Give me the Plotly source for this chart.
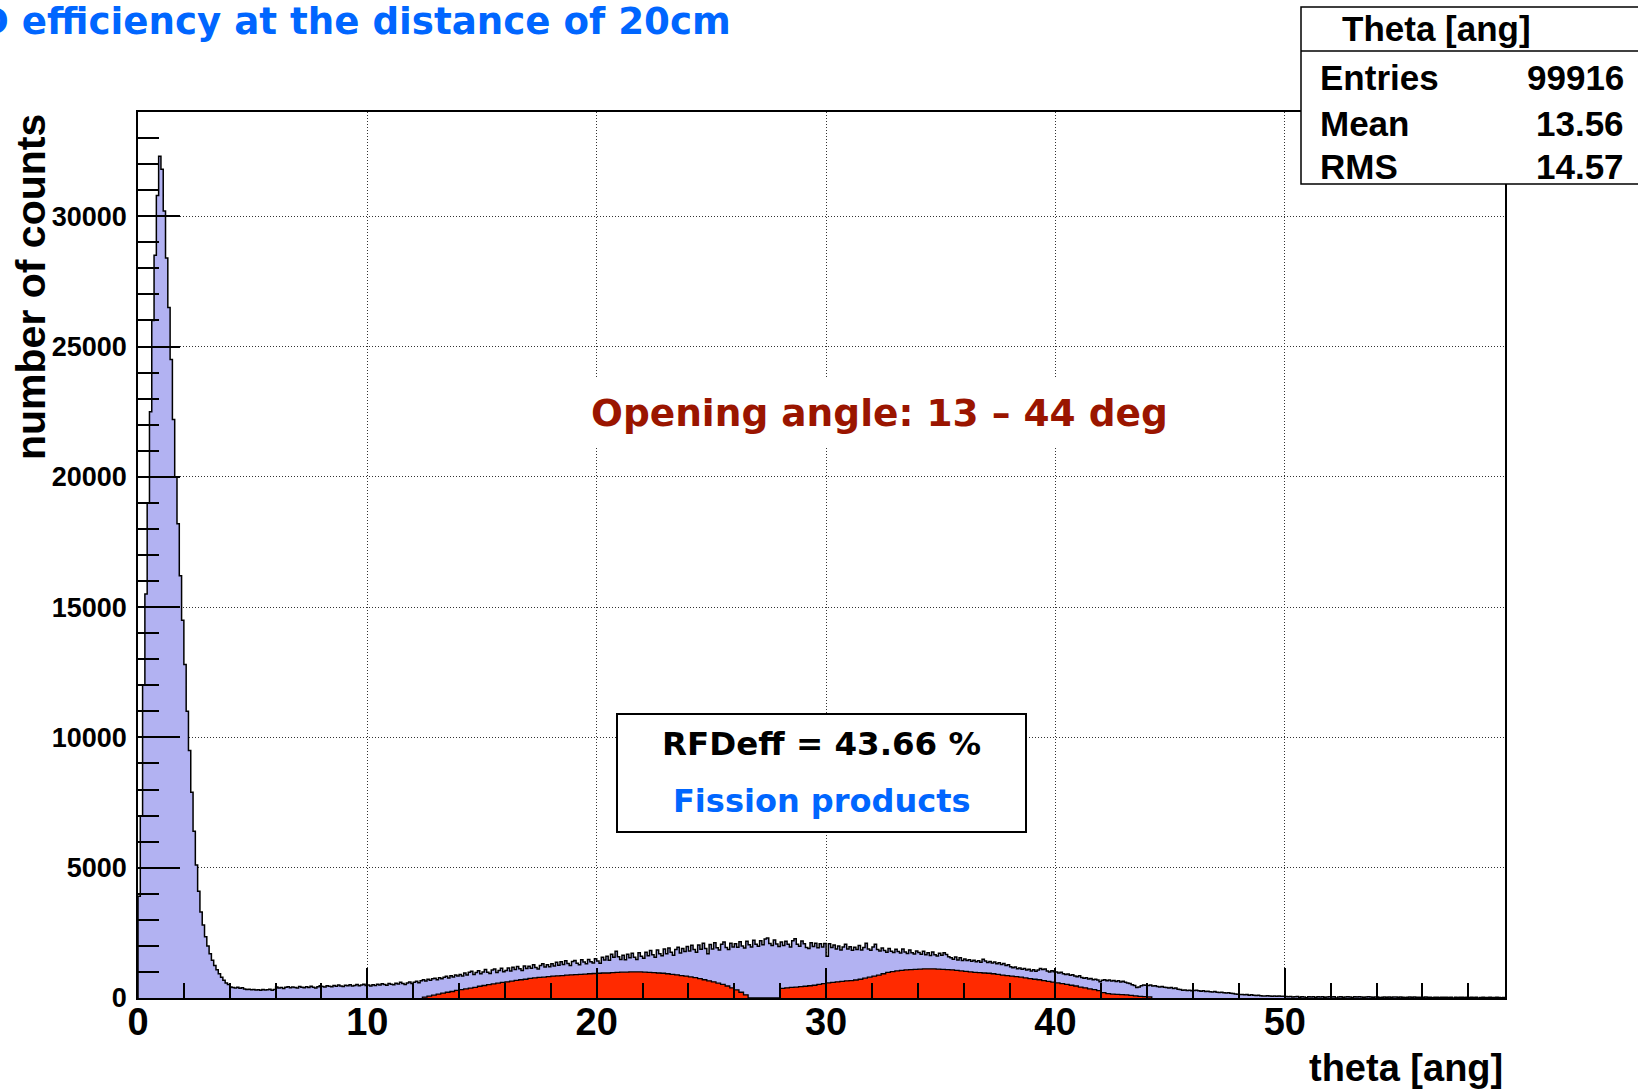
import plotly.graph_objects as go

# ---------------------------------------------------------------
# Histogram contents
# ---------------------------------------------------------------
# All detected particles: theta in 0.1-degree bins starting at 0
theta_start = 0.0
theta_width = 0.1
theta_counts = [
    3900, 6980, 12000, 15500, 19000, 22500, 26000, 28500, 30800, 32300,
    31800, 30200, 28400, 26500, 24500, 22200, 20000, 18200, 16200, 14500,
    12800, 11000, 9500, 7900, 6400, 5100, 4100, 3300, 2800, 2350,
    2000, 1700, 1450, 1250, 1080, 930, 800, 680, 580, 520,
    420, 400, 380, 410, 370, 390, 350, 330, 340, 320,
    330, 310, 320, 300, 330, 310, 320, 340, 300, 330,
    420, 380, 400, 360, 410, 430, 390, 420, 400, 380,
    440, 410, 390, 430, 400, 450, 410, 380, 430, 470,
    440, 420, 470, 450, 430, 480, 450, 500, 460, 440,
    490, 470, 510, 460, 480, 520, 470, 500, 530, 480,
    500, 460, 510, 480, 530, 500, 550, 520, 490, 560,
    530, 510, 570, 540, 600, 560, 520, 580, 610, 560,
    600, 640, 590, 660, 700, 650, 720, 680, 740, 760,
    700, 780, 740, 800, 830, 770, 850, 810, 880, 840,
    900, 840, 960, 880, 990, 1030, 900, 980, 1050, 930,
    1000, 1090, 990, 940, 1070, 1110, 980, 1060, 1140, 1010,
    1060, 1150, 1040, 1180, 1090, 1210, 1120, 1060, 1230, 1130,
    1220, 1140, 1280, 1170, 1110, 1250, 1310, 1190, 1280, 1200,
    1310, 1230, 1370, 1260, 1390, 1290, 1430, 1320, 1250, 1400,
    1440, 1330, 1280, 1470, 1380, 1310, 1480, 1390, 1340, 1510,
    1420, 1330, 1560, 1460, 1600, 1450, 1680, 1560, 1790, 1580,
    1480, 1640, 1470, 1680, 1540, 1720, 1560, 1480, 1740, 1600,
    1530, 1760, 1620, 1820, 1660, 1560, 1840, 1700, 1620, 1880,
    1700, 1920, 1760, 1640, 1860, 1950, 1730, 1900, 1780, 1980,
    1800, 2020, 1860, 1760, 2030, 1870, 2100, 1900, 1700, 2050,
    1880, 2120, 1930, 1840, 2060, 2150, 1940, 1860, 2100, 1960,
    2080, 1950, 2160, 2000, 1920, 2180, 2040, 1960, 2220, 2060,
    1990, 2200, 2040, 2260, 2300, 2090, 2010, 2230, 2070, 1980,
    2150, 2010, 2180, 2060, 1960, 2200, 2270, 2060, 1990, 2190,
    2080, 1940, 1900, 2120, 1980, 2100, 1930, 2080, 1960, 2090,
    1600, 2080, 1940, 2030, 1880, 2000, 1840, 1960, 2060, 1880,
    1970, 1830, 1950, 1860, 2010, 1840, 1940, 2100, 1880, 1830,
    1960, 2060, 1860, 1800, 1920, 1820, 1760, 1900, 1790, 1750,
    1870, 1780, 1730, 1880, 1770, 1710, 1840, 1740, 1690, 1800,
    1750, 1680, 1790, 1660, 1740, 1630, 1770, 1660, 1610, 1720,
    1640, 1740, 1670, 1580, 1540, 1490, 1570, 1460, 1540, 1440,
    1500, 1440, 1470, 1410, 1450, 1390, 1430, 1370, 1490, 1420,
    1360, 1400, 1340, 1380, 1310, 1350, 1290, 1320, 1250, 1280,
    1200, 1160, 1190, 1120, 1150, 1100, 1130, 1070, 1100, 1040,
    1080, 1030, 1070, 1130, 1090, 1110, 1040, 1000, 1050, 1010,
    1000, 960, 990, 930, 900, 920, 870, 890, 840, 820,
    850, 790, 760, 780, 730, 750, 700, 720, 690, 620,
    680, 700, 660, 690, 650, 670, 630, 660, 610, 640,
    600, 580, 560, 510, 480, 400, 420, 470, 500, 490,
    480, 500, 460, 470, 440, 420, 440, 410, 400, 380,
    400, 360, 380, 340, 330, 300, 310, 290, 300, 280,
    290, 300, 280, 260, 280, 250, 260, 240, 230, 250,
    220, 210, 220, 200, 190, 200, 180, 170, 150, 140,
    130, 130, 120, 130, 110, 120, 110, 100, 110, 90,
    80, 80, 90, 80, 70, 80, 70, 80, 70, 70,
    60, 50, 60, 40, 50, 60, 30, 50, 40, 10,
    50, 40, 50, 20, 50, 40, 50, 30, 40, 50,
    40, 50, 0, 40, 50, 30, 40, 50, 40, 20,
    50, 40, 50, 40, 30, 40, 50, 40, 30, 40,
    40, 10, 30, 40, 30, 40, 30, 40, 40, 30,
    40, 30, 20, 30, 40, 30, 40, 30, 30, 20,
    30, 40, 30, 30, 10, 30, 30, 20, 30, 30,
    30, 20, 30, 0, 30, 20, 30, 30, 20, 30,
    20, 30, 20, 30, 0, 20, 30, 20, 20, 30,
    20, 20, 30, 20, 10, 20,
]

# Fission products inside the opening angle: 0.2-degree bins from 12.4
ff_start = 12.4
ff_width = 0.2
ff_counts = [
    30, 70, 110,
    150, 190, 220, 250, 290,
    320, 350, 380, 410, 450,
    480, 510, 540, 570, 600,
    620, 650, 680, 700, 720,
    750, 770, 790, 800, 820,
    840, 850, 860, 880, 890,
    900, 910, 920, 930, 940,
    950, 960, 960, 970, 980,
    990, 990, 1000, 1000, 1000,
    990, 980, 970, 960, 950,
    930, 910, 890, 860, 840,
    810, 780, 740, 700, 660,
    620, 570, 520, 460, 390,
    310, 220, 120, 0, 0,
    0, 0, 0, 0, 0,
    370, 390, 410, 420, 440,
    450, 470, 490, 520, 550,
    580, 600, 620, 640, 660,
    670, 690, 720, 760, 800,
    840, 880, 930, 980, 1010,
    1040, 1060, 1080, 1090, 1100,
    1110, 1120, 1120, 1120, 1110,
    1100, 1090, 1080, 1060, 1040,
    1020, 1000, 980, 970, 960,
    950, 930, 910, 880, 860,
    840, 820, 800, 770, 740,
    720, 700, 670, 640, 610,
    580, 550, 520, 490, 460,
    420, 390, 350, 320, 280,
    210, 170, 150, 140, 130,
    120, 100, 80, 60, 50,
    40,
]

x_range = [0, 59.6]
y_range = [0, 34000]
x_tickvals = [0, 10, 20, 30, 40, 50]
x_ticktext = ["0", "10", "20", "30", "40", "50"]
y_tickvals = [0, 5000, 10000, 15000, 20000, 25000, 30000]
y_ticktext = ["0", "5000", "10000", "15000", "20000", "25000", "30000"]

stats_title = "Theta [ang]"
stats_labels = ["Entries", "Mean", "RMS"]
stats_values = ["99916", "13.56", "14.57"]

title_text = "D efficiency at the distance of 20cm"
angle_text = "Opening angle: 13 \u2013 44 deg"
eff_text = "RFDeff = 43.66 %"
sample_text = "Fission products"

# ---------------------------------------------------------------
# Page geometry (pixels) and helpers
# ---------------------------------------------------------------
W, H = 1638, 1092
L, R, T, B = 138, 1505, 112, 998

def px(x):
    return (x - L) / (R - L)

def py(y):
    return (B - y) / (B - T)

ROOT_FONT = "Liberation Sans, Arial, sans-serif"
SLIDE_FONT = "DejaVu Sans, Verdana, sans-serif"


def step_outline(start, width, counts, close=False):
    xs, ys = [start], [0]
    for i, c in enumerate(counts):
        xs.append(start + i * width)
        ys.append(c)
    end = start + len(counts) * width
    xs.append(end)
    ys.append(counts[-1])
    if close:
        xs.append(end)
        ys.append(0)
    return xs, ys


tx, ty = step_outline(theta_start, theta_width, theta_counts)
fx, fy = step_outline(ff_start, ff_width, ff_counts, close=True)

fig = go.Figure()
fig.add_trace(go.Scatter(
    x=tx, y=ty, mode="lines", line=dict(shape="hv", color="black", width=1.5),
    fill="tozeroy", fillcolor="#b2b2f2", hoverinfo="skip", showlegend=False,
))
fig.add_trace(go.Scatter(
    x=fx, y=fy, mode="lines", line=dict(shape="hv", color="black", width=1.3),
    fill="tozeroy", fillcolor="#ff2a00", hoverinfo="skip", showlegend=False,
))

axis_common = dict(
    showline=True, linecolor="black", linewidth=1.5, mirror=True,
    showgrid=True, gridcolor="#333333", gridwidth=1, griddash="1px,2px",
    zeroline=False, ticks="inside", tickcolor="black", tickwidth=1.5,
    tickmode="array",
)

fig.update_xaxes(
    range=x_range, tickvals=x_tickvals, ticktext=x_ticktext, ticklen=30,
    tickfont=dict(family=ROOT_FONT, color="black", weight="bold", size=38),
    ticklabelstandoff=-10,
    minor=dict(dtick=2, ticks="inside", ticklen=15, tickcolor="black",
               tickwidth=1.5, showgrid=False),
    **axis_common,
)
fig.update_yaxes(
    range=y_range, tickvals=y_tickvals, ticktext=y_ticktext, ticklen=42,
    tickfont=dict(family=ROOT_FONT, color="black", weight="bold", size=27),
    ticklabelstandoff=4,
    minor=dict(dtick=1000, ticks="inside", ticklen=21, tickcolor="black",
               tickwidth=1.5, showgrid=False),
    **axis_common,
)

shapes = [
    # white backing behind the opening-angle caption
    dict(type="rect", xref="paper", yref="paper", layer="above",
         x0=px(572), x1=px(1188), y0=py(447), y1=py(378),
         fillcolor="white", line=dict(width=0)),
    # efficiency box
    dict(type="rect", xref="paper", yref="paper", layer="above",
         x0=px(617), x1=px(1026), y0=py(832), y1=py(714),
         fillcolor="white", line=dict(color="black", width=2)),
    # statistics box
    dict(type="rect", xref="paper", yref="paper", layer="above",
         x0=px(1301), x1=px(1680), y0=py(184), y1=py(7),
         fillcolor="white", line=dict(color="black", width=1.5)),
    dict(type="line", xref="paper", yref="paper", layer="above",
         x0=px(1301), x1=px(1680), y0=py(51), y1=py(51),
         line=dict(color="black", width=1.5)),
]

annotations = [
    dict(text=title_text, x=px(733), y=py(21), xanchor="right", yanchor="middle",
         font=dict(family=SLIDE_FONT, size=37.2, color="#0066ff", weight="bold")),
    dict(text=angle_text, x=px(879), y=py(413), xanchor="center", yanchor="middle",
         font=dict(family=SLIDE_FONT, size=37.5, color="#9a1500", weight="bold")),
    dict(text=eff_text, x=px(821), y=py(744), xanchor="center", yanchor="middle",
         font=dict(family=SLIDE_FONT, size=32.5, color="black", weight="bold")),
    dict(text=sample_text, x=px(821), y=py(801), xanchor="center", yanchor="middle",
         font=dict(family=SLIDE_FONT, size=32, color="#0066ff", weight="bold")),
    dict(text="number of counts", x=px(31), y=py(112), xanchor="center", yanchor="top",
         textangle=-90,
         font=dict(family=ROOT_FONT, size=41, color="black", weight="bold")),
    dict(text="theta [ang]", x=px(1505), y=py(1068), xanchor="right", yanchor="middle",
         font=dict(family=ROOT_FONT, size=38, color="black", weight="bold")),
    dict(text=stats_title, x=px(1436), y=py(29), xanchor="center", yanchor="middle",
         font=dict(family=ROOT_FONT, size=35, color="black", weight="bold")),
]
row_y = [78, 123, 167]
for lab, val, yy in zip(stats_labels, stats_values, row_y):
    annotations.append(dict(text=lab, x=px(1318), y=py(yy), xanchor="left", yanchor="middle",
                            font=dict(family=ROOT_FONT, size=35, color="black", weight="bold")))
    annotations.append(dict(text=val, x=px(1626), y=py(yy), xanchor="right", yanchor="middle",
                            font=dict(family=ROOT_FONT, size=35, color="black", weight="bold")))
for a in annotations:
    a.update(xref="paper", yref="paper", showarrow=False)

fig.update_layout(
    width=W, height=H,
    margin=dict(l=L, r=W - R, t=T, b=H - B, pad=0),
    paper_bgcolor="white", plot_bgcolor="white",
    shapes=shapes, annotations=annotations, showlegend=False,
)

fig.write_html("out.html")
